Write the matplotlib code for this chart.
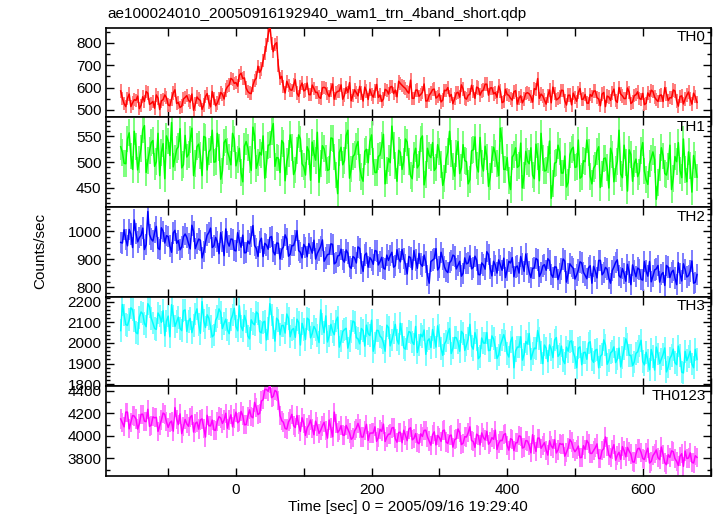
import numpy as np
import matplotlib
matplotlib.use("Agg")
import matplotlib.pyplot as plt
from matplotlib.colors import to_rgb
from matplotlib.ticker import MultipleLocator

plt.rcParams['font.family'] = ['Liberation Sans', 'DejaVu Sans']

# light curves (counts/sec), 2.5 s bins starting at t = -170 s
T_START = -170
BIN = 2.5

th0 = [585, 552, 528, 515, 552, 571, 515, 532, 546, 543, 562, 506, 521, 559, 538, 582, 575, 525, 530, 538,
       508, 567, 553, 502, 541, 546, 567, 555, 522, 519, 549, 576, 590, 529, 534, 511, 517, 549, 556, 564,
       543, 535, 571, 499, 526, 558, 548, 542, 503, 523, 560, 573, 535, 514, 582, 551, 519, 531, 551, 578,
       570, 549, 590, 604, 612, 641, 635, 619, 622, 606, 655, 664, 640, 643, 598, 582, 575, 573, 610, 632,
       642, 695, 668, 682, 720, 754, 790, 835, 880, 797, 760, 793, 800, 699, 640, 650, 605, 576, 628, 609,
       590, 588, 612, 635, 575, 561, 603, 620, 585, 590, 620, 569, 568, 611, 596, 578, 579, 557, 552, 599,
       601, 597, 574, 560, 589, 616, 548, 576, 583, 585, 612, 548, 566, 600, 578, 622, 541, 565, 590, 577,
       563, 605, 575, 540, 602, 584, 547, 593, 569, 557, 584, 614, 556, 567, 538, 549, 592, 587, 571, 602,
       605, 573, 589, 559, 628, 618, 610, 602, 596, 583, 575, 633, 552, 552, 588, 589, 561, 569, 579, 616,
       540, 541, 566, 576, 591, 593, 553, 559, 572, 536, 544, 588, 586, 600, 560, 569, 528, 550, 575, 579,
       557, 612, 594, 554, 548, 566, 570, 610, 583, 552, 602, 598, 566, 584, 589, 615, 615, 566, 598, 599,
       572, 578, 556, 607, 584, 533, 537, 592, 569, 565, 552, 544, 581, 586, 526, 553, 563, 532, 548, 574,
       577, 572, 559, 535, 595, 591, 640, 552, 571, 563, 545, 526, 563, 589, 532, 602, 574, 545, 550, 558,
       588, 587, 541, 522, 566, 566, 523, 575, 556, 539, 578, 596, 547, 549, 569, 531, 530, 569, 561, 584,
       585, 555, 549, 519, 571, 578, 515, 562, 558, 543, 576, 593, 542, 534, 600, 571, 563, 551, 551, 598,
       579, 529, 536, 564, 568, 581, 552, 547, 574, 524, 530, 576, 561, 588, 583, 557, 546, 538, 565, 567,
       538, 600, 572, 542, 555, 554, 589, 585, 541, 517, 560, 563, 527, 549, 566, 580, 549, 526, 575, 559,
       534]
th1 = [530, 519, 498, 497, 545, 557, 512, 486, 560, 530, 485, 506, 527, 563, 571, 480, 503, 522, 538, 542,
       492, 501, 556, 474, 519, 536, 468, 551, 541, 513, 577, 491, 508, 525, 530, 565, 489, 495, 552, 510,
       515, 544, 566, 474, 497, 530, 535, 513, 474, 550, 548, 485, 520, 525, 562, 500, 501, 556, 529, 467,
       483, 538, 544, 520, 510, 495, 556, 545, 493, 506, 527, 480, 462, 531, 540, 528, 505, 484, 568, 551,
       488, 500, 519, 514, 551, 469, 496, 533, 534, 560, 575, 492, 509, 508, 480, 542, 537, 464, 501, 517,
       553, 528, 476, 485, 522, 553, 545, 497, 491, 475, 530, 521, 465, 539, 517, 504, 558, 461, 498, 532,
       526, 508, 484, 486, 547, 546, 510, 475, 439, 519, 529, 495, 503, 552, 562, 469, 487, 511, 515, 531,
       540, 490, 472, 463, 521, 525, 499, 540, 553, 502, 480, 480, 511, 514, 532, 554, 458, 484, 507, 499,
       570, 533, 494, 463, 523, 519, 486, 502, 545, 539, 502, 474, 468, 514, 527, 489, 495, 545, 551, 456,
       476, 527, 513, 509, 538, 484, 489, 534, 520, 495, 455, 469, 506, 520, 560, 517, 492, 473, 517, 540,
       478, 489, 534, 503, 501, 458, 466, 522, 524, 549, 493, 481, 548, 497, 483, 531, 510, 453, 472, 506,
       529, 517, 497, 474, 566, 542, 486, 486, 509, 464, 447, 510, 515, 528, 490, 493, 537, 450, 474, 521,
       502, 497, 528, 475, 468, 535, 511, 464, 556, 508, 483, 484, 505, 541, 430, 458, 498, 500, 533, 520,
       479, 479, 512, 452, 461, 514, 525, 529, 490, 491, 543, 469, 472, 503, 501, 543, 519, 473, 458, 488,
       494, 521, 530, 451, 477, 507, 508, 490, 450, 527, 515, 462, 487, 502, 562, 477, 470, 533, 499, 444,
       524, 515, 463, 497, 506, 472, 481, 522, 538, 483, 466, 457, 497, 508, 520, 505, 428, 461, 490, 528,
       512, 478, 475, 492, 533, 447, 469, 511, 501, 538, 484, 470, 545, 486, 462, 520, 494, 442, 513, 495,
       471]
th2 = [960, 958, 1005, 971, 948, 1006, 990, 942, 1040, 992, 962, 977, 985, 1011, 935, 952, 1070, 988, 972, 965,
       995, 1017, 940, 935, 1012, 1000, 958, 984, 981, 947, 925, 994, 1003, 957, 967, 934, 944, 980, 990, 978,
       956, 937, 1021, 999, 938, 956, 972, 968, 905, 928, 960, 986, 995, 1011, 942, 948, 978, 963, 920, 995,
       963, 913, 1008, 962, 947, 972, 971, 932, 930, 995, 966, 943, 986, 923, 924, 965, 955, 981, 1020, 949,
       939, 910, 962, 975, 910, 957, 951, 936, 978, 981, 927, 916, 958, 957, 901, 935, 944, 987, 972, 911,
       918, 949, 949, 968, 1002, 931, 925, 905, 953, 943, 909, 956, 940, 922, 968, 901, 921, 933, 946, 969,
       893, 905, 917, 918, 955, 953, 884, 889, 912, 914, 936, 899, 890, 933, 922, 874, 868, 910, 905, 887,
       944, 939, 886, 857, 915, 922, 872, 906, 898, 882, 931, 929, 880, 892, 907, 869, 865, 915, 896, 913,
       925, 872, 877, 934, 903, 891, 935, 903, 882, 848, 910, 906, 864, 931, 898, 868, 921, 883, 875, 915,
       890, 843, 815, 892, 897, 902, 938, 862, 872, 925, 901, 873, 859, 853, 888, 895, 915, 911, 866, 879,
       893, 840, 850, 905, 884, 887, 912, 866, 871, 911, 897, 846, 845, 887, 880, 865, 927, 917, 868, 841,
       893, 879, 851, 898, 879, 861, 904, 835, 862, 893, 887, 906, 838, 872, 876, 851, 910, 883, 857, 919,
       883, 855, 835, 868, 869, 903, 898, 839, 852, 876, 881, 861, 902, 895, 846, 836, 873, 872, 828, 849,
       866, 901, 894, 819, 849, 884, 875, 868, 830, 844, 862, 891, 887, 854, 843, 831, 870, 877, 815, 875,
       858, 834, 896, 896, 845, 853, 871, 865, 833, 815, 860, 873, 889, 898, 842, 835, 867, 850, 822, 882,
       855, 810, 880, 859, 838, 869, 864, 829, 826, 892, 858, 840, 892, 820, 840, 862, 866, 878, 819, 846,
       853, 807, 878, 872, 835, 854, 861, 833, 810, 888, 849, 823, 884, 864, 837, 842, 858, 894, 815, 818,
       846]
th3 = [2060, 2186, 2135, 2089, 2085, 2112, 2170, 2161, 2110, 2050, 2045, 2125, 2150, 2141, 2095, 2079, 2190, 2176, 2120, 2096,
       2070, 2066, 2145, 2130, 2100, 2156, 2035, 2106, 2130, 2030, 2185, 2131, 2080, 2103, 2125, 2071, 2060, 2156, 2160, 2056,
       2105, 2119, 2050, 2085, 2140, 2165, 2090, 2047, 2200, 2107, 2075, 2136, 2120, 2078, 2030, 2039, 2110, 2127, 2165, 2148,
       2070, 2095, 2115, 2063, 2045, 2112, 2135, 2168, 2080, 2059, 2180, 2080, 2060, 2133, 2105, 2034, 2020, 2112, 2095, 2088,
       2150, 2141, 2055, 2049, 2100, 2105, 2015, 2070, 2190, 2135, 2075, 2009, 2120, 2109, 2040, 2084, 2085, 2048, 2140, 2119,
       2030, 2063, 2070, 2027, 2115, 2099, 1990, 2095, 2065, 2017, 2120, 2113, 2025, 2046, 2080, 2065, 2035, 2002, 2160, 2092,
       2050, 2131, 2005, 2034, 2090, 2057, 2040, 2106, 2125, 1980, 2010, 2055, 2065, 2071, 1975, 2009, 2055, 2106, 2100, 2026,
       2020, 1996, 2070, 2060, 1985, 2086, 2045, 2036, 2110, 1960, 2000, 2061, 2060, 2033, 2025, 2001, 1960, 2086, 2075, 1986,
       2015, 2049, 2090, 2015, 1995, 2095, 2040, 1977, 1970, 2022, 2055, 2051, 2005, 1993, 2080, 1954, 1990, 2042, 2030, 2063,
       1945, 2010, 2020, 1978, 2065, 2027, 1980, 2083, 2035, 1974, 1940, 1995, 2010, 2048, 2070, 1949, 1975, 2027, 2025, 2003,
       1960, 2056, 2045, 1964, 1990, 2020, 2090, 1985, 1970, 2050, 2015, 1924, 1935, 2024, 2000, 1999, 2050, 1963, 1965, 2034,
       2020, 1978, 1925, 1942, 1990, 2014, 2040, 2010, 1950, 1932, 2005, 2028, 1880, 1961, 1980, 1980, 2030, 1917, 1945, 2007,
       1995, 2046, 1920, 1949, 1975, 1972, 2060, 2021, 1955, 1900, 1990, 1975, 1910, 1991, 1970, 1929, 2015, 2026, 1935, 1946,
       1985, 1916, 1900, 1980, 1960, 2006, 2010, 1956, 1930, 1880, 1975, 1981, 1895, 1953, 1955, 1921, 2000, 2006, 1920, 1906,
       1965, 1969, 1880, 1935, 1945, 2015, 1990, 1897, 1915, 1952, 1960, 1981, 1905, 1923, 1975, 1884, 1930, 1972, 2020, 1993,
       1940, 1940, 1890, 1908, 1950, 1957, 1985, 2013, 1910, 1894, 1955, 1915, 1870, 1968, 1935, 1869, 1980, 1947, 1900, 1923,
       1945, 1976, 1860, 1884, 1925, 1940, 1970, 1905, 1895, 1985, 1940, 1859, 1855, 1959, 1915, 1934, 1960, 1898, 1880, 1969,
       1920]
th0123 = [4150, 4116, 4080, 4210, 4210, 4062, 4120, 4180, 4175, 4150, 4060, 4108, 4190, 4192, 4130, 4126, 4235, 4084, 4095, 4168,
          4160, 4164, 4040, 4090, 4140, 4202, 4190, 4124, 4075, 4116, 4130, 4042, 4250, 4148, 4100, 4194, 4020, 4080, 4145, 4106,
          4085, 4164, 4180, 4034, 4110, 4122, 4060, 4140, 4150, 4068, 3990, 4182, 4090, 4088, 4140, 4052, 4050, 4128, 4170, 4158,
          4110, 4140, 4200, 4068, 4140, 4186, 4080, 4154, 4210, 4116, 4130, 4216, 4180, 4098, 4100, 4172, 4230, 4172, 4160, 4296,
          4250, 4188, 4200, 4308, 4320, 4412, 4410, 4394, 4460, 4338, 4350, 4402, 4390, 4316, 4180, 4134, 4120, 4066, 4060, 4124,
          4150, 4190, 4090, 4074, 4180, 4098, 4040, 4160, 4110, 4004, 4070, 4096, 4140, 4068, 4010, 4130, 4085, 4022, 4050, 4088,
          4120, 4046, 3980, 4140, 4070, 3992, 4210, 4110, 4030, 4050, 4090, 4008, 4005, 4092, 4060, 4026, 3970, 3984, 4045, 4068,
          4110, 4064, 3990, 3990, 4050, 4102, 3960, 4024, 4025, 4026, 4080, 3952, 3985, 4058, 4040, 4104, 3950, 3990, 4015, 4016,
          4070, 4074, 3975, 3944, 4030, 4032, 3940, 4050, 4005, 3958, 4060, 4072, 3965, 3978, 4020, 3942, 3930, 4018, 3995, 4048,
          4050, 3990, 3955, 3918, 4010, 4036, 3920, 4004, 3985, 3951, 4045, 4051, 3945, 3933, 4000, 4007, 3900, 3967, 3975, 4061,
          4030, 3923, 3935, 3993, 3990, 4027, 4080, 3959, 3950, 3898, 4015, 4002, 3920, 4026, 3985, 3964, 4040, 3926, 3945, 3984,
          3970, 4050, 3880, 3934, 3960, 3958, 4010, 4020, 3915, 3874, 3975, 3966, 3870, 3938, 3940, 4000, 3995, 3892, 3900, 3958,
          3955, 3916, 3850, 4010, 3925, 3862, 3980, 3980, 3890, 3915, 3940, 3873, 3830, 3957, 3910, 3891, 3965, 3849, 3875, 3933,
          3925, 3929, 3820, 3855, 3895, 3967, 3945, 3889, 3860, 3881, 3910, 3807, 3810, 3913, 3880, 3959, 3935, 3845, 3845, 3871,
          3895, 3929, 3800, 3799, 3870, 3887, 3990, 3905, 3830, 3808, 3880, 3922, 3785, 3828, 3855, 3792, 3905, 3868, 3815, 3898,
          3865, 3840, 3770, 3768, 3840, 3886, 3890, 3854, 3800, 3791, 3850, 3891, 3760, 3773, 3825, 3847, 3875, 3807, 3790, 3901,
          3835, 3763, 3745, 3833, 3810, 3867, 3860, 3799, 3775, 3738, 3820, 3842, 3730, 3866, 3800, 3804, 3850, 3766, 3760, 3824,
          3810]

names = ['TH0', 'TH1', 'TH2', 'TH3', 'TH0123']
series = [th0, th1, th2, th3, th0123]
errors = [30, 26, 38, 55, 85]
colors = ['#ff0000', '#00ff00', '#0000ff', '#00ffff', '#ff00ff']
ylims = [(467, 867), (413, 587), (767, 1086), (1790, 2224), (3645, 4438)]
ymajor = [100, 50, 100, 100, 200]
yminor = [50, 10, 20, 20, 100]

fig, axes = plt.subplots(5, 1, figsize=(7.17, 5.16), dpi=100, sharex=True)
fig.subplots_adjust(left=0.1485, right=0.991, top=0.9463, bottom=0.0775, hspace=0)

for ax, name, vals, err, c, yl, ma, mi in zip(axes, names, series, errors, colors, ylims, ymajor, yminor):
    t = T_START + BIN * np.arange(len(vals))
    light = tuple(0.55 * np.array(to_rgb(c)) + 0.45)
    ax.errorbar(t, vals, yerr=err, fmt='none', ecolor=light, elinewidth=1.3, capsize=0, zorder=2)
    ax.plot(t, vals, color=c, lw=1.1, zorder=3)
    ax.set_ylim(*yl)
    ax.set_xlim(-191, 700)
    ax.yaxis.set_major_locator(MultipleLocator(ma))
    ax.yaxis.set_minor_locator(MultipleLocator(mi))
    ax.xaxis.set_major_locator(MultipleLocator(200))
    ax.xaxis.set_minor_locator(MultipleLocator(100))
    ax.tick_params(which='both', direction='in', top=True, right=True, labelsize=11, width=1.0)
    ax.tick_params(axis='y', which='major', length=6)
    ax.tick_params(axis='y', which='minor', length=3)
    ax.tick_params(axis='x', which='both', length=6)
    for s in ax.spines.values():
        s.set_linewidth(1.2)
    ax.text(0.992, 0.97, name, transform=ax.transAxes, ha='right', va='top', fontsize=11, zorder=5)

axes[-1].tick_params(axis='x', labelsize=11, pad=5)

fig.text(107 / 717, 1 - 21 / 516, 'ae100024010_20050916192940_wam1_trn_4band_short.qdp',
         ha='left', va='bottom', fontsize=11)
fig.text(40 / 717, 1 - 251 / 516, 'Counts/sec', rotation=90, ha='center', va='center', fontsize=11)
fig.text(408 / 717, 1 - 507 / 516, 'Time [sec] 0 = 2005/09/16 19:29:40', ha='center', va='center', fontsize=11)

fig.savefig('out.png', dpi=100)
